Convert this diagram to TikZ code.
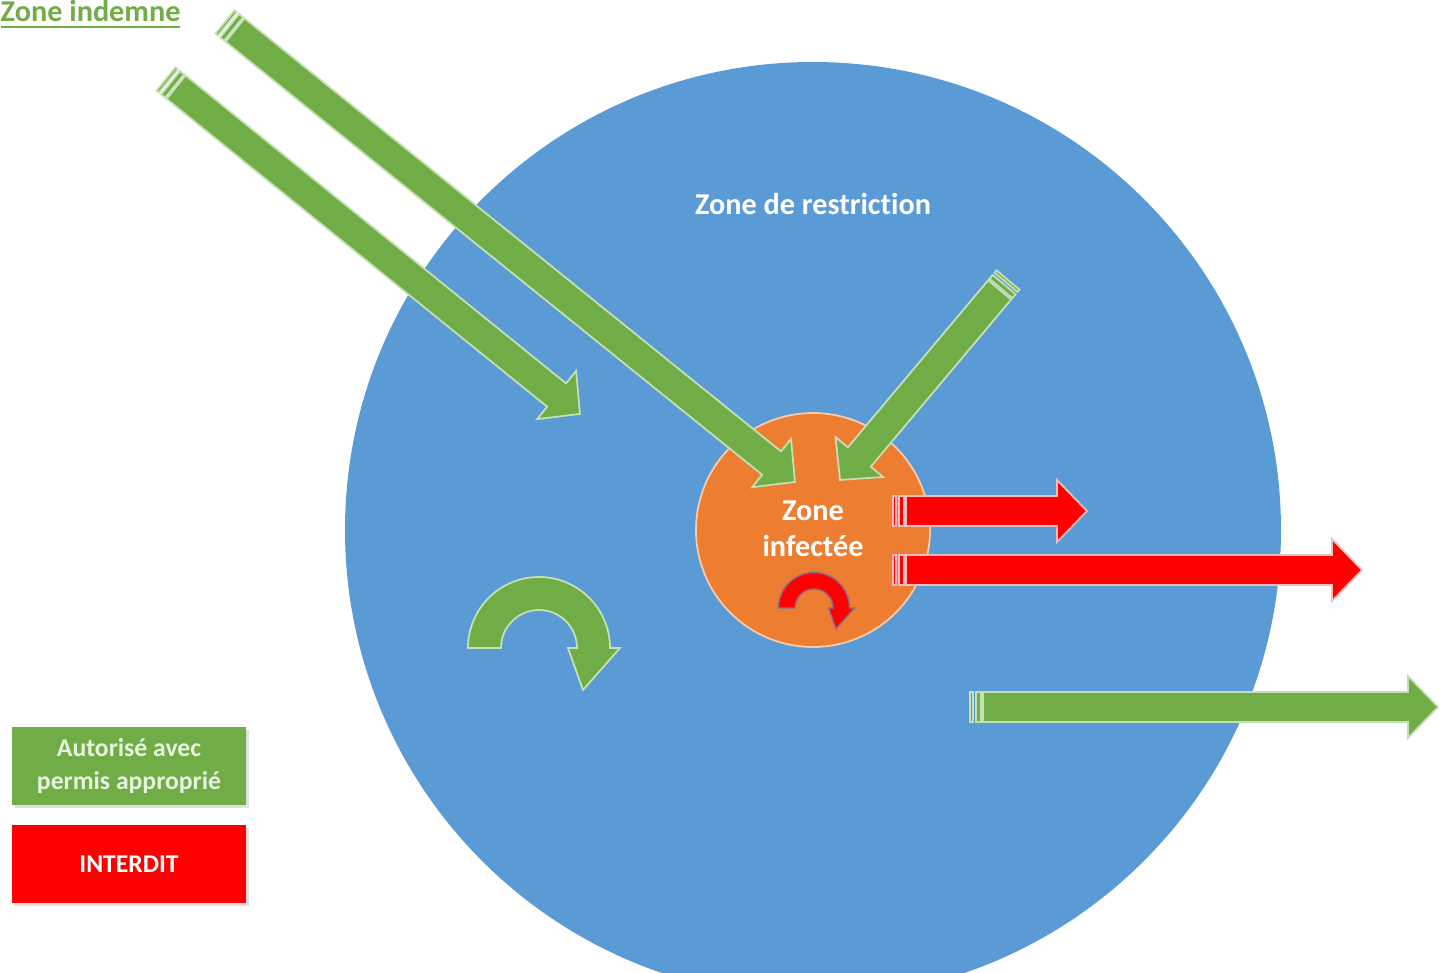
\documentclass[tikz,border=0pt]{standalone}
\usepackage{fontspec}
\setmainfont{Carlito}[Ligatures=NoCommon]
\usetikzlibrary{shadows}
\definecolor{zblue}{HTML}{5B9BD5}
\definecolor{zorange}{HTML}{ED7D31}
\definecolor{zorangelight}{HTML}{F8CBAD}
\definecolor{zgreen}{HTML}{70AD47}
\definecolor{zgreenlight}{HTML}{C5E0B4}
\definecolor{zgreenpale}{HTML}{E8F3E0}
\definecolor{zred}{HTML}{FF0000}
\definecolor{zredlight}{HTML}{F2BDBD}
\definecolor{zrededge}{HTML}{8C6A8C}
\tikzset{
	greenblock/.style={fill=zgreen, draw=zgreenlight, line width=0.5pt},
	redblock/.style={fill=zred, draw=zredlight, line width=0.5pt},
	zonetext/.style={text=white, align=center, font=\fontsize{8.6}{10.3}\selectfont\bfseries},
	legendbox/.style={minimum width=2.34cm, minimum height=0.77cm, inner sep=0pt, align=center,
		font=\fontsize{7.3}{9.4}\selectfont\bfseries,
		drop shadow={opacity=0.25, shadow xshift=0.03cm, shadow yshift=-0.03cm}},
	turn/.pic={
		\path[pic actions] (-71,0) arc[start angle=180, end angle=360, radius=71]
			-- (81,0) -- (44,42) -- (29,0) -- (38,0)
			arc[start angle=360, end angle=180, radius=38] -- cycle;
	}
}
% striped block arrow: style, tail x, tail y, tip x, tip y
\newcommand{\stripedarrow}[5]{%
	\pgfmathsetmacro{\ang}{atan2(#3-#5,#4-#2)}%
	\pgfmathsetmacro{\len}{veclen(#4-#2,#5-#3)}%
	\begin{scope}[shift={(#2,#3)},rotate=\ang]
		\filldraw[#1] (0,-15) rectangle (3,15);
		\filldraw[#1] (6,-15) rectangle (11,15);
		\filldraw[#1] (13,-15) -- ({\len-30},-15) -- ({\len-30},-31) -- (\len,0)
			-- ({\len-30},31) -- ({\len-30},15) -- (13,15) -- cycle;
	\end{scope}}

\begin{document}
\begin{tikzpicture}[x=0.01cm, y=-0.01cm]
	\useasboundingbox (0,0) rectangle (1441,973);
	\clip (0,0) rectangle (1441,973);
	% zones
	\fill[zblue] (813,530) circle[radius=468];
	\filldraw[fill=zorange, draw=zorangelight, line width=0.5pt] (813,530) circle[radius=117];
	% movements inside the zones
	\pic[fill=zgreen, draw=zgreenlight, line width=0.5pt] (greenturn) at (539,648) {turn};
	\pic[scale=0.5, fill=zred, draw=zrededge, line width=0.4pt] (redturn) at (814,608) {turn};
	% movements between the zones
	\stripedarrow{greenblock}{225}{22}{795}{482}
	\stripedarrow{greenblock}{166}{79}{580}{414}
	\stripedarrow{greenblock}{1008}{280}{840}{480}
	\stripedarrow{redblock}{893}{511}{1087}{511}
	\stripedarrow{redblock}{893}{570}{1362}{570}
	\stripedarrow{greenblock}{970}{707}{1438}{707}
	% labels
	\node[anchor=base west, inner sep=0pt, text=zgreen, font=\fontsize{8.6}{10.3}\selectfont\bfseries]
		(indemne) at (0,22) {\underline{Zone indemne}};
	\node[zonetext] (restriction) at (813,204) {Zone de restriction};
	\node[zonetext] (infectee) at (813,529) {Zone\\infectée};
	% legend
	\node[legendbox, fill=zgreen, text=zgreenpale] (allowed) at (129,766) {Autorisé avec\\permis approprié};
	\node[legendbox, fill=zred, text=white] (forbidden) at (129,864) {INTERDIT};
\end{tikzpicture}
\end{document}
